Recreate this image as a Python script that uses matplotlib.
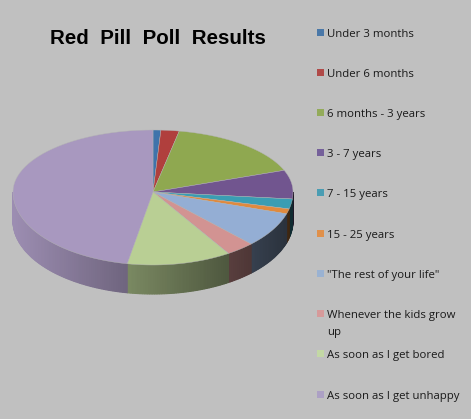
# -*- coding: utf-8 -*-
# Pie 3D "Red Pill Poll Results", desenhado em coordenadas de pixel
import numpy as np
import matplotlib
matplotlib.use('Agg')
import matplotlib.pyplot as plt
from matplotlib.patches import Polygon, Rectangle

TITULO = "Red  Pill  Poll  Results"
CATEGORIAS = [
    "Under 3 months", "Under 6 months", "6 months - 3 years", "3 - 7 years",
    "7 - 15 years", "15 - 25 years", '"The rest of your life"',
    "Whenever the kids grow\nup", "As soon as I get bored", "As soon as I get unhappy",
]
VALORES = [0.9, 2.1, 16.3, 7.2, 2.2, 1.1, 7.8, 3.3, 12.0, 47.0]
CORES = ["#3f73ab", "#b03f3d", "#8fa850", "#71558f", "#3a9db3",
         "#e08a3e", "#94aed4", "#d29392", "#b9cf94", "#a898bf"]
CORES_LEGENDA = ["#4a78a8", "#b04a48", "#93ab5a", "#75609a", "#4a9db3",
                 "#e0904a", "#9ab2d2", "#d69a9a", "#c3d8a5", "#aca0c4"]
LEGENDA_Y = [33, 73, 113, 153, 193, 234, 274, 314, 354, 395]

CX, CY = 153, 192
RX, RY_CIMA, RY_BAIXO = 140, 62, 73
ALTURA = 29


def ponto(theta):
    """Angulo (graus, horario a partir do topo) para pixel na face superior."""
    t = np.radians(theta)
    dy = -np.cos(t)
    ry = np.where(dy < 0, RY_CIMA, RY_BAIXO)
    return CX + RX * np.sin(t), CY + dy * ry


def sombra(x):
    # lateral escurece da esquerda para a direita
    return 0.6 - 0.33 * (x - CX) / RX


fig = plt.figure(figsize=(4.71, 4.19), dpi=100, facecolor="#c0c0c0")
ax = fig.add_axes([0, 0, 1, 1])
ax.set_xlim(0, 471)
ax.set_ylim(419, 0)
ax.axis('off')

limites = np.concatenate([[0], np.cumsum(VALORES)]) / sum(VALORES) * 360

# laterais (so a parte da frente, 90 a 270 graus)
for i, cor in enumerate(CORES):
    ini, fim = max(limites[i], 90), min(limites[i + 1], 270)
    if fim <= ini:
        continue
    rgb = np.array(matplotlib.colors.to_rgb(cor))
    angulos = np.arange(ini, fim + 1.0, 1.0)
    angulos[-1] = fim
    for a, b in zip(angulos[:-1], angulos[1:]):
        xa, ya = ponto(a)
        xb, yb = ponto(b)
        f = sombra((xa + xb) / 2)
        ax.add_patch(Polygon([(xa, ya), (xb, yb), (xb, yb + ALTURA), (xa, ya + ALTURA)],
                             closed=True, facecolor=rgb * f, edgecolor=rgb * f, lw=0.8))

# face superior
for i, cor in enumerate(CORES):
    angulos = np.linspace(limites[i], limites[i + 1], 60)
    xs, ys = ponto(angulos)
    pts = [(CX, CY)] + list(zip(xs, ys))
    ax.add_patch(Polygon(pts, closed=True, facecolor=cor, edgecolor="#b4b4b4", lw=0.3))

ax.text(50, 39, TITULO, fontsize=14.8, fontweight='bold', family='Liberation Sans',
        color='black', va='center', ha='left')

for nome, cor, y in zip(CATEGORIAS, CORES_LEGENDA, LEGENDA_Y):
    ax.add_patch(Rectangle((317, y - 4), 7, 7, facecolor=cor, edgecolor='none'))
    ax.text(327, y - 4, nome, fontsize=8.2, family='Open Sans', color='#1a1a1a',
            va='top', ha='left', linespacing=1.75)

fig.savefig("out.png", dpi=100, facecolor=fig.get_facecolor())
